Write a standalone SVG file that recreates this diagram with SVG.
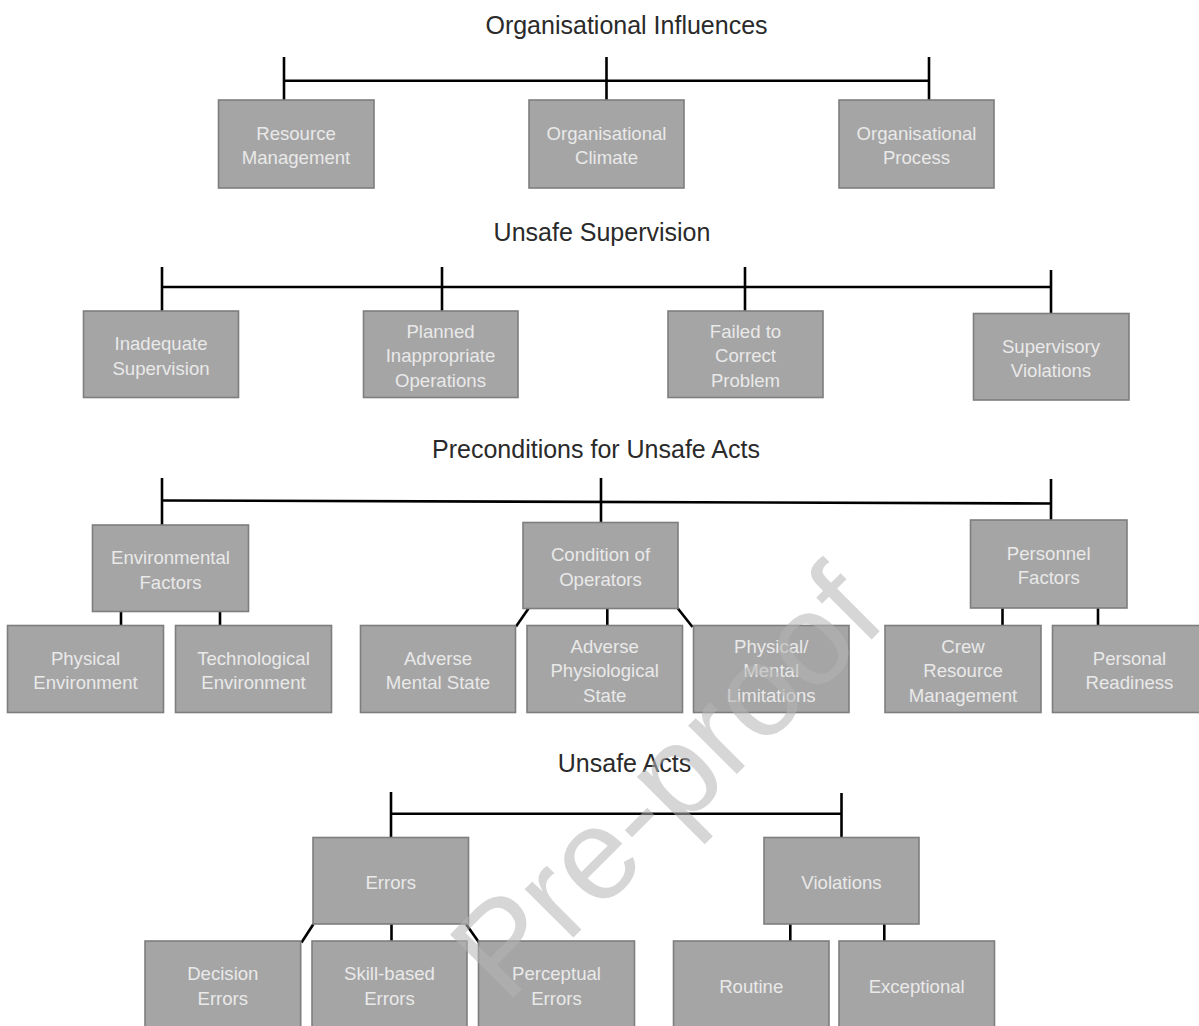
<svg xmlns="http://www.w3.org/2000/svg" width="1199" height="1026" viewBox="0 0 1199 1026">
<style>
  .box { fill: #a5a5a5; stroke: #7e7e7e; stroke-width: 1.6; }
  .lbl { font-family: "Liberation Sans", Arial, sans-serif; font-size: 18.6px; fill: #e9e9e9; text-anchor: middle; }
  .title { font-family: "Liberation Sans", Arial, sans-serif; font-size: 25px; fill: #2a2a2a; text-anchor: middle; }
  .con { stroke: #000; stroke-width: 2.6; fill: none; stroke-linecap: butt; }
  .wm { font-family: "Liberation Sans", Arial, sans-serif; font-size: 130px; fill: #b4b4b4; fill-opacity: 0.55; }
</style>
<rect width="1199" height="1026" fill="#ffffff"/>

<g id="titles">
  <text class="title" x="626.5" y="33.5">Organisational Influences</text>
  <text class="title" x="602" y="241">Unsafe Supervision</text>
  <text class="title" x="596" y="458.3">Preconditions for Unsafe Acts</text>
  <text class="title" x="624.5" y="772">Unsafe Acts</text>
</g>

<g id="connectors">
  <!-- row 1 -->
  <line class="con" x1="284" y1="80.7" x2="929" y2="80.7"/>
  <line class="con" x1="284" y1="57" x2="284" y2="100"/>
  <line class="con" x1="606.5" y1="57" x2="606.5" y2="100"/>
  <line class="con" x1="929" y1="57" x2="929" y2="100"/>
  <!-- row 2 -->
  <line class="con" x1="162" y1="287" x2="1051" y2="287"/>
  <line class="con" x1="162" y1="267" x2="162" y2="311"/>
  <line class="con" x1="442" y1="267" x2="442" y2="311"/>
  <line class="con" x1="745" y1="267" x2="745" y2="311"/>
  <line class="con" x1="1051" y1="270" x2="1051" y2="313"/>
  <!-- row 3 -->
  <line class="con" x1="162" y1="500.5" x2="1051" y2="503.5"/>
  <line class="con" x1="162" y1="478" x2="162" y2="525"/>
  <line class="con" x1="601" y1="478" x2="601" y2="522.5"/>
  <line class="con" x1="1051" y1="479" x2="1051" y2="520"/>
  <line class="con" x1="121" y1="611.5" x2="121" y2="625.5"/>
  <line class="con" x1="220" y1="611.5" x2="220" y2="625.5"/>
  <line class="con" x1="528.5" y1="608.5" x2="516" y2="626.5"/>
  <line class="con" x1="607.3" y1="608.5" x2="607.3" y2="625.5"/>
  <line class="con" x1="677.5" y1="608" x2="692.5" y2="627"/>
  <line class="con" x1="1002.5" y1="608" x2="1002.5" y2="625.5"/>
  <line class="con" x1="1098" y1="608" x2="1098" y2="625.5"/>
  <!-- row 4 -->
  <line class="con" x1="391" y1="813.8" x2="841.5" y2="813.8"/>
  <line class="con" x1="391" y1="792" x2="391" y2="837.5"/>
  <line class="con" x1="841.5" y1="793" x2="841.5" y2="837.5"/>
  <line class="con" x1="313.5" y1="924" x2="301.5" y2="942.5"/>
  <line class="con" x1="391.5" y1="924" x2="391.5" y2="941"/>
  <line class="con" x1="466" y1="924" x2="479" y2="942.5"/>
  <line class="con" x1="790.3" y1="924" x2="790.3" y2="941"/>
  <line class="con" x1="884.3" y1="924" x2="884.3" y2="941"/>
</g>

<!-- Row 1 -->
<g id="resource-management">
  <rect class="box" x="218.5" y="100" width="155.5" height="88"/>
  <text class="lbl" x="296" y="139.7">Resource</text>
  <text class="lbl" x="296" y="164.2">Management</text>
</g>
<g id="organisational-climate">
  <rect class="box" x="529" y="100" width="155" height="88"/>
  <text class="lbl" x="606.5" y="139.7">Organisational</text>
  <text class="lbl" x="606.5" y="164.2">Climate</text>
</g>
<g id="organisational-process">
  <rect class="box" x="839" y="100" width="155" height="88"/>
  <text class="lbl" x="916.5" y="139.7">Organisational</text>
  <text class="lbl" x="916.5" y="164.2">Process</text>
</g>

<!-- Row 2 -->
<g id="inadequate-supervision">
  <rect class="box" x="83.5" y="311" width="155" height="86.5"/>
  <text class="lbl" x="161" y="350">Inadequate</text>
  <text class="lbl" x="161" y="374.5">Supervision</text>
</g>
<g id="planned-inappropriate-operations">
  <rect class="box" x="363.5" y="311" width="154.5" height="86.5"/>
  <text class="lbl" x="440.5" y="337.5">Planned</text>
  <text class="lbl" x="440.5" y="362">Inappropriate</text>
  <text class="lbl" x="440.5" y="386.5">Operations</text>
</g>
<g id="failed-to-correct-problem">
  <rect class="box" x="668" y="311" width="155" height="86.5"/>
  <text class="lbl" x="745.5" y="337.5">Failed to</text>
  <text class="lbl" x="745.5" y="362">Correct</text>
  <text class="lbl" x="745.5" y="386.5">Problem</text>
</g>
<g id="supervisory-violations">
  <rect class="box" x="973.5" y="313.5" width="155.5" height="86.5"/>
  <text class="lbl" x="1051" y="352.5">Supervisory</text>
  <text class="lbl" x="1051" y="377">Violations</text>
</g>

<!-- Row 3 parents -->
<g id="environmental-factors">
  <rect class="box" x="92.5" y="525" width="156" height="86.5"/>
  <text class="lbl" x="170.5" y="564">Environmental</text>
  <text class="lbl" x="170.5" y="588.5">Factors</text>
</g>
<g id="condition-of-operators">
  <rect class="box" x="523" y="522.5" width="155" height="86"/>
  <text class="lbl" x="600.5" y="561.3">Condition of</text>
  <text class="lbl" x="600.5" y="585.8">Operators</text>
</g>
<g id="personnel-factors">
  <rect class="box" x="970.5" y="520" width="156.5" height="88"/>
  <text class="lbl" x="1048.7" y="559.8">Personnel</text>
  <text class="lbl" x="1048.7" y="584.3">Factors</text>
</g>

<!-- Row 3 children -->
<g id="physical-environment">
  <rect class="box" x="7.5" y="625.5" width="156" height="87"/>
  <text class="lbl" x="85.5" y="664.8">Physical</text>
  <text class="lbl" x="85.5" y="689.3">Environment</text>
</g>
<g id="technological-environment">
  <rect class="box" x="175.5" y="625.5" width="156" height="87"/>
  <text class="lbl" x="253.5" y="664.8">Technological</text>
  <text class="lbl" x="253.5" y="689.3">Environment</text>
</g>
<g id="adverse-mental-state">
  <rect class="box" x="360.5" y="625.5" width="155" height="87"/>
  <text class="lbl" x="438" y="664.8">Adverse</text>
  <text class="lbl" x="438" y="689.3">Mental State</text>
</g>
<g id="adverse-physiological-state">
  <rect class="box" x="527" y="625.5" width="155.5" height="87"/>
  <text class="lbl" x="604.7" y="652.5">Adverse</text>
  <text class="lbl" x="604.7" y="677">Physiological</text>
  <text class="lbl" x="604.7" y="701.5">State</text>
</g>
<g id="physical-mental-limitations">
  <rect class="box" x="693.5" y="625.5" width="155.5" height="87"/>
  <text class="lbl" x="771.2" y="652.5">Physical/</text>
  <text class="lbl" x="771.2" y="677">Mental</text>
  <text class="lbl" x="771.2" y="701.5">Limitations</text>
</g>
<g id="crew-resource-management">
  <rect class="box" x="885" y="625.5" width="156" height="87"/>
  <text class="lbl" x="963" y="652.5">Crew</text>
  <text class="lbl" x="963" y="677">Resource</text>
  <text class="lbl" x="963" y="701.5">Management</text>
</g>
<g id="personal-readiness">
  <rect class="box" x="1052.5" y="625.5" width="156" height="87"/>
  <text class="lbl" x="1129.5" y="664.8">Personal</text>
  <text class="lbl" x="1129.5" y="689.3">Readiness</text>
</g>

<!-- Row 4 -->
<g id="errors">
  <rect class="box" x="313" y="837.5" width="155.5" height="86.5"/>
  <text class="lbl" x="390.7" y="888.6">Errors</text>
</g>
<g id="violations">
  <rect class="box" x="764" y="837.5" width="155" height="86.5"/>
  <text class="lbl" x="841.5" y="888.6">Violations</text>
</g>
<g id="decision-errors">
  <rect class="box" x="145" y="941" width="155.7" height="88"/>
  <text class="lbl" x="222.8" y="980.2">Decision</text>
  <text class="lbl" x="222.8" y="1004.7">Errors</text>
</g>
<g id="skill-based-errors">
  <rect class="box" x="312" y="941" width="155" height="88"/>
  <text class="lbl" x="389.5" y="980.2">Skill-based</text>
  <text class="lbl" x="389.5" y="1004.7">Errors</text>
</g>
<g id="perceptual-errors">
  <rect class="box" x="478.5" y="941" width="156" height="88"/>
  <text class="lbl" x="556.5" y="980.2">Perceptual</text>
  <text class="lbl" x="556.5" y="1004.7">Errors</text>
</g>
<g id="routine">
  <rect class="box" x="673.5" y="941" width="155.5" height="88"/>
  <text class="lbl" x="751.2" y="992.6">Routine</text>
</g>
<g id="exceptional">
  <rect class="box" x="839" y="941" width="155.5" height="88"/>
  <text class="lbl" x="916.7" y="992.6">Exceptional</text>
</g>

<g id="watermark">
  <text class="wm" transform="translate(189,1322) rotate(-45)" x="448" y="0">Pre-proof</text>
</g>
</svg>
